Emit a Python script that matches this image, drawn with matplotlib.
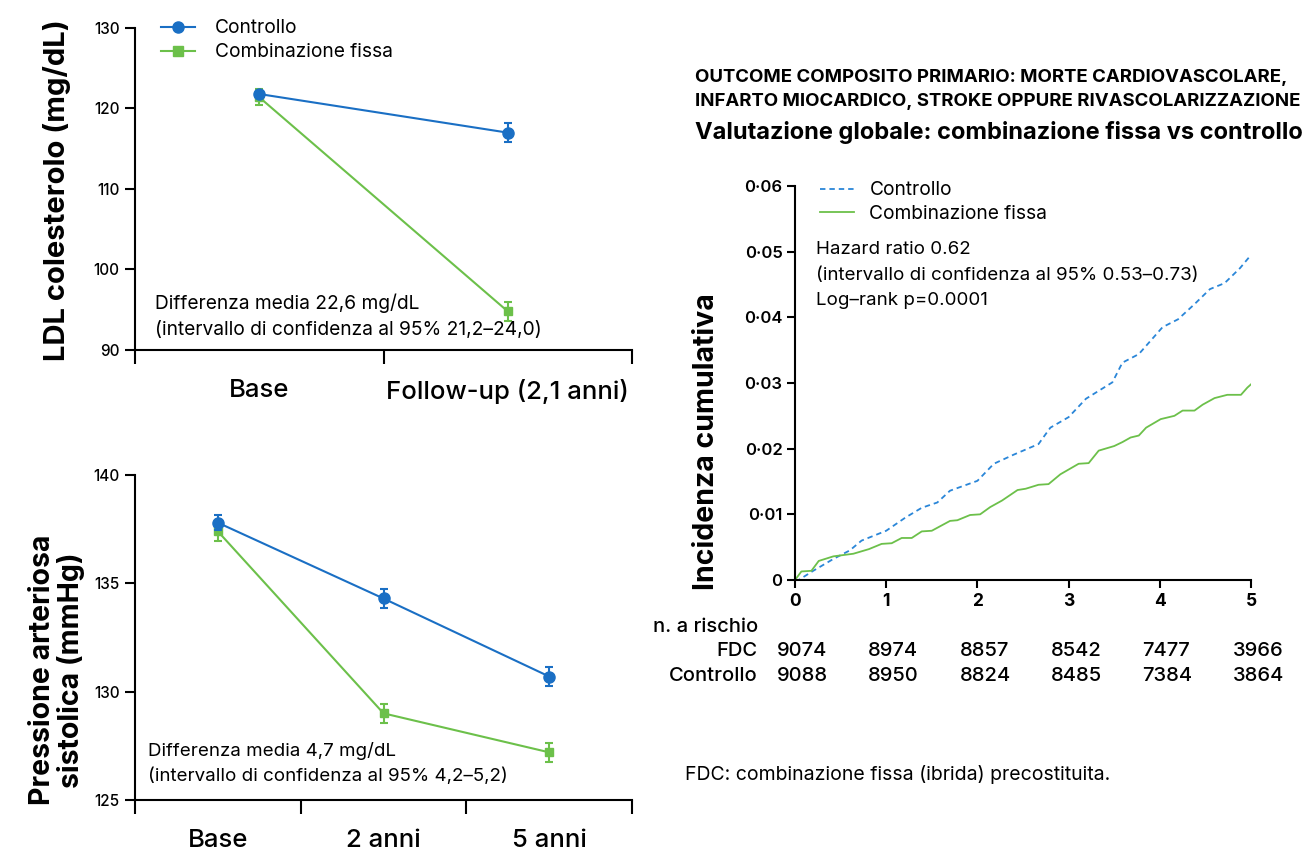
import matplotlib
matplotlib.use("Agg")
import matplotlib.pyplot as plt
from matplotlib.lines import Line2D
import matplotlib.transforms as mtransforms

plt.rcParams['font.family'] = ['Inter', 'DejaVu Sans']

BLUE = "#1a6fc4"
GREEN = "#6cc04a"
KM_BLUE = "#2a86d8"

# --- LDL panel ---
ldl_cats = ["Base", "Follow-up (2,1 anni)"]
ldl_ctrl = [121.8, 117.0]
ldl_ctrl_err = [0.4, 1.2]
ldl_fdc = [121.4, 94.8]
ldl_fdc_err = [1.0, 1.2]

# --- blood pressure panel ---
bp_cats = ["Base", "2 anni", "5 anni"]
bp_ctrl = [137.8, 134.3, 130.7]
bp_ctrl_err = [0.35, 0.42, 0.42]
bp_fdc = [137.4, 129.0, 127.2]
bp_fdc_err = [0.43, 0.44, 0.45]

# --- Kaplan-Meier style curves ---
km_t_ctrl = [0, 0.04, 0.2, 0.42, 0.6, 0.73, 1.0, 1.21, 1.39, 1.56, 1.7, 2.0, 2.18, 2.4,
             2.67, 2.8, 3.0, 3.19, 3.48, 3.59, 3.77, 4.03, 4.2, 4.38, 4.55, 4.71, 4.88, 5.0]
km_v_ctrl = [0, 0, 0.0014, 0.0032, 0.0045, 0.006, 0.0075, 0.0095, 0.011, 0.0118, 0.0136,
             0.0151, 0.0177, 0.0191, 0.0207, 0.0232, 0.0248, 0.0276, 0.0301, 0.0331, 0.0344,
             0.0385, 0.0397, 0.042, 0.0443, 0.0452, 0.0475, 0.0495]
km_t_fdc = [0, 0.07, 0.18, 0.26, 0.42, 0.64, 0.81, 0.95, 1.06, 1.17, 1.28, 1.39, 1.5, 1.7,
            1.78, 1.92, 2.03, 2.14, 2.27, 2.44, 2.53, 2.67, 2.78, 2.91, 3.11, 3.22, 3.33,
            3.5, 3.59, 3.68, 3.77, 3.85, 4.01, 4.16, 4.25, 4.38, 4.47, 4.6, 4.74, 4.89, 4.96, 5.0]
km_v_fdc = [0, 0.0013, 0.0014, 0.0029, 0.0036, 0.004, 0.0047, 0.0055, 0.0056, 0.0064, 0.0064,
            0.0074, 0.0075, 0.009, 0.0091, 0.0099, 0.01, 0.0111, 0.0121, 0.0137, 0.0139,
            0.0145, 0.0146, 0.0161, 0.0177, 0.0178, 0.0197, 0.0204, 0.021, 0.0217, 0.022,
            0.0232, 0.0245, 0.025, 0.0258, 0.0258, 0.0267, 0.0277, 0.0282, 0.0282, 0.0293, 0.0298]

risk_times = [0, 1, 2, 3, 4, 5]
risk_fdc = [9074, 8974, 8857, 8542, 7477, 3966]
risk_ctrl = [9088, 8950, 8824, 8485, 7384, 3864]
km_yticks = [0, 0.01, 0.02, 0.03, 0.04, 0.05, 0.06]
km_ylabels = ["0", "0·01", "0·02", "0·03", "0·04", "0·05", "0·06"]

W, H = 1312, 850
fig = plt.figure(figsize=(W / 100, H / 100), dpi=100)


def style_left(ax, cats, ylim, yticks):
    n = len(cats)
    ax.set_xlim(0, n)
    ax.set_ylim(*ylim)
    ax.set_yticks(yticks)
    ax.set_xticks(range(n + 1))
    ax.set_xticklabels([""] * (n + 1))
    ax.set_xticks([i + 0.5 for i in range(n)], minor=True)
    ax.set_xticklabels(cats, minor=True, fontsize=18.5, fontweight='medium')
    ax.tick_params(axis='x', which='minor', length=0, pad=21)
    ax.tick_params(axis='x', which='major', length=10, width=1.5, direction='out')
    ax.tick_params(axis='y', length=7, width=1.5, labelsize=11, pad=4)
    for lbl in ax.get_yticklabels():
        lbl.set_fontweight('medium')
    for s in ['top', 'right']:
        ax.spines[s].set_visible(False)
    for s in ['left', 'bottom']:
        ax.spines[s].set_linewidth(1.5)


# top-left LDL
ax1 = fig.add_axes([135 / W, 1 - 350 / H, 497 / W, 322 / H])
x1 = [i + 0.5 for i in range(len(ldl_cats))]
ax1.errorbar(x1, ldl_ctrl, yerr=ldl_ctrl_err, color=BLUE, marker='o', ms=8, lw=1.5,
             capsize=3, elinewidth=1.5, capthick=1.5, zorder=3)
ax1.errorbar(x1, ldl_fdc, yerr=ldl_fdc_err, color=GREEN, marker='s', ms=6, lw=1.5,
             capsize=3, elinewidth=1.5, capthick=1.5, zorder=2)
style_left(ax1, ldl_cats, (90, 130), [90, 100, 110, 120, 130])
fig.text(57 / W, 1 - 190 / H, "LDL colesterolo (mg/dL)", rotation=90, fontsize=21,
         fontweight='bold', ha='center', va='center')
handles = [Line2D([], [], color=BLUE, marker='o', ms=8, lw=1.5),
           Line2D([], [], color=GREEN, marker='s', ms=7, lw=1.5)]
ax1.legend(handles, ["Controllo", "Combinazione fissa"], loc='upper left',
           bbox_to_anchor=(0.033, 1.057), frameon=False, fontsize=13.8,
           handlelength=1.8, handletextpad=1.0, labelspacing=0.32, borderpad=0)
ax1.text(0.04, 0.104, "Differenza media 22,6 mg/dL\n(intervallo di confidenza al 95% 21,2–24,0)",
         transform=ax1.transAxes, fontsize=13.8, linespacing=1.58, va='center')

# bottom-left blood pressure
ax2 = fig.add_axes([135 / W, 1 - 800 / H, 497 / W, 325 / H])
x2 = [i + 0.5 for i in range(len(bp_cats))]
ax2.errorbar(x2, bp_ctrl, yerr=bp_ctrl_err, color=BLUE, marker='o', ms=8, lw=1.5,
             capsize=3, elinewidth=1.5, capthick=1.5, zorder=3)
ax2.errorbar(x2, bp_fdc, yerr=bp_fdc_err, color=GREEN, marker='s', ms=6, lw=1.5,
             capsize=3, elinewidth=1.5, capthick=1.5, zorder=2)
style_left(ax2, bp_cats, (125, 140), [125, 130, 135, 140])
fig.text(57 / W, 1 - 670 / H, "Pressione arteriosa\nsistolica (mmHg)", rotation=90,
         fontsize=20.5, fontweight='bold', ha='center', va='center', linespacing=1.07)
ax2.text(0.026, 0.113, "Differenza media 4,7 mg/dL\n(intervallo di confidenza al 95% 4,2–5,2)",
         transform=ax2.transAxes, fontsize=13.5, linespacing=1.58, va='center')

# right KM panel
ax3 = fig.add_axes([795 / W, 1 - 580 / H, 456 / W, 394 / H])
ax3.plot(km_t_ctrl, km_v_ctrl, color=KM_BLUE, lw=1.3, ls=(0, (3, 2.2)), label="Controllo")
ax3.plot(km_t_fdc, km_v_fdc, color=GREEN, lw=1.3, label="Combinazione fissa")
ax3.set_xlim(0, 5)
ax3.set_ylim(0, 0.06)
ax3.set_xticks(risk_times)
ax3.set_xticklabels([str(t) for t in risk_times], fontweight='bold', fontsize=12.5)
ax3.set_yticks(km_yticks)
ax3.set_yticklabels(km_ylabels, fontsize=12, fontweight='semibold')
ax3.tick_params(length=6, width=1.5, pad=3)
for s in ['top', 'right']:
    ax3.spines[s].set_visible(False)
for s in ['left', 'bottom']:
    ax3.spines[s].set_linewidth(1.5)
ax3.legend(loc='upper left', bbox_to_anchor=(0.033, 1.036), frameon=False, fontsize=13.8,
           handlelength=1.8, handletextpad=0.8, labelspacing=0.27, borderpad=0)
ax3.text(0.046, 0.774, "Hazard ratio 0.62\n(intervallo di confidenza al 95% 0.53–0.73)\nLog–rank p=0.0001",
         transform=ax3.transAxes, fontsize=13.5, linespacing=1.62, va='center')

tr = mtransforms.blended_transform_factory(ax3.transData, fig.transFigure)
fig.text(653 / W, 1 - 627 / H, "n. a rischio", fontsize=14.5, fontweight='medium', va='center')
lab_x = (758 - 795) / 91.2
num_x = (777 - 795) / 91.2
ax3.text(lab_x, 1 - 651 / H, "FDC", transform=tr, fontsize=14.5, fontweight='medium',
         ha='right', va='center')
ax3.text(lab_x, 1 - 676 / H, "Controllo", transform=tr, fontsize=14.5, fontweight='medium',
         ha='right', va='center')
for t, a, b in zip(risk_times, risk_fdc, risk_ctrl):
    ax3.text(t + num_x, 1 - 651 / H, str(a), transform=tr, fontsize=14.5, fontweight='medium',
             ha='left', va='center')
    ax3.text(t + num_x, 1 - 676 / H, str(b), transform=tr, fontsize=14.5, fontweight='medium',
             ha='left', va='center')

fig.text(707 / W, 1 - 442 / H, "Incidenza cumulativa", rotation=90, fontsize=20.5,
         fontweight='bold', ha='center', va='center')
fig.text(695 / W, 1 - 77 / H, "OUTCOME COMPOSITO PRIMARIO: MORTE CARDIOVASCOLARE,",
         fontsize=13.4, fontweight='bold', va='center')
fig.text(695 / W, 1 - 102 / H, "INFARTO MIOCARDICO, STROKE OPPURE RIVASCOLARIZZAZIONE",
         fontsize=13.4, fontweight='bold', va='center')
fig.text(695 / W, 1 - 133 / H, "Valutazione globale: combinazione fissa vs controllo",
         fontsize=17, fontweight='bold', va='center')
fig.text(685 / W, 1 - 775 / H, "FDC: combinazione fissa (ibrida) precostituita.",
         fontsize=14, va='center')

fig.savefig("out.png", dpi=100)
